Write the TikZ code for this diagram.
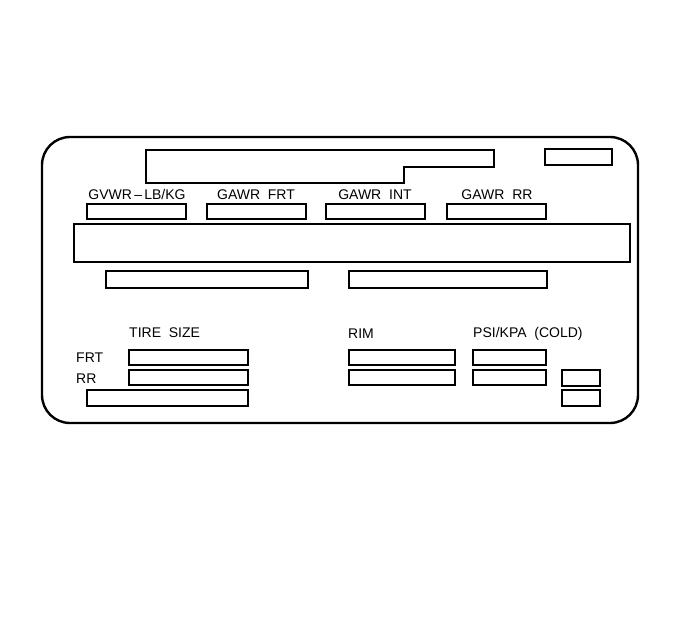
\documentclass[tikz,border=0pt]{standalone}
\usepackage{fontspec}
\setmainfont{Liberation Sans}
\usepackage{tikz}

\tikzset{
    feld/.style={line width=1.8pt},
    etikett/.style={font=\fontsize{14}{16}\selectfont, inner sep=0pt, anchor=base}
}

\begin{document}
\begin{tikzpicture}[x=1pt,y=-1pt]
    \useasboundingbox (0,0) rectangle (678,637);

    % schild
    \draw[line width=2.4pt, rounded corners=28pt] (42,137) rectangle (638,423);

    % oberes feld mit stufe
    \draw[feld] (146,150) -- (494,150) -- (494,167) -- (404,167) -- (404,183) -- (146,183) -- cycle;
    \draw[feld] (545,149) rectangle (612,165);

    % gewichte
    \node[etikett] (gvwr) at (137,199) {GVWR\,–\,LB/KG};
    \node[etikett] (gawrfrt) at (256,199) {GAWR\ \ FRT};
    \node[etikett] (gawrint) at (375,199) {GAWR\ \ INT};
    \node[etikett] (gawrrr) at (497,199) {GAWR\ \ RR};
    \draw[feld] (87,204) rectangle (186,219);
    \draw[feld] (207,204) rectangle (306,219);
    \draw[feld] (326,204) rectangle (425,219);
    \draw[feld] (447,204) rectangle (546,219);

    % breites feld
    \draw[feld] (74,224) rectangle (630,262);
    \draw[feld] (106,271) rectangle (308,288);
    \draw[feld] (349,271) rectangle (547,288);

    % reifen
    \node[etikett, anchor=base west] (reifen) at (129,337) {TIRE\ \ SIZE};
    \node[etikett, anchor=base west] (felge) at (348,338) {RIM};
    \node[etikett, anchor=base west] (druck) at (473,337) {PSI/KPA\ \ (COLD)};
    \node[etikett, anchor=base west] (vorn) at (76,362) {FRT};
    \node[etikett, anchor=base west] (hinten) at (76,383) {RR};

    \draw[feld] (129,350) rectangle (248,365);
    \draw[feld] (129,370) rectangle (248,385);
    \draw[feld] (87,390) rectangle (248,406);

    \draw[feld] (349,350) rectangle (455,365);
    \draw[feld] (349,370) rectangle (455,385);

    \draw[feld] (473,350) rectangle (546,365);
    \draw[feld] (473,370) rectangle (546,385);

    \draw[feld] (562,370) rectangle (600,386);
    \draw[feld] (562,390) rectangle (600,406);
\end{tikzpicture}
\end{document}
